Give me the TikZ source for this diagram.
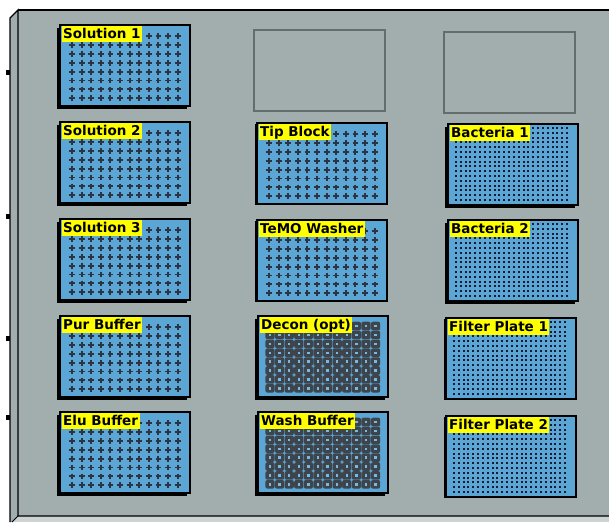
\documentclass[tikz,border=0pt]{standalone}
\usepackage{fontspec}
\newfontfamily\platefont{DejaVu Sans}
\usetikzlibrary{shadows}
\definecolor{framegray}{RGB}{162,174,174}
\definecolor{belowgray}{RGB}{205,210,210}
\definecolor{plateblue}{RGB}{92,166,214}
\definecolor{welldark}{RGB}{44,52,68}
\definecolor{deepdark}{RGB}{62,68,76}
\definecolor{deephole}{RGB}{120,185,225}
\definecolor{dotnavy}{RGB}{18,26,52}
\definecolor{emptyedge}{RGB}{100,108,108}
\definecolor{labelyellow}{RGB}{255,255,0}
\tikzset{
  plate/.style={draw=black, line width=1.5pt, fill=plateblue, anchor=north west,
    minimum width=130pt, minimum height=81pt, inner sep=0pt},
  emptybox/.style={draw=emptyedge, line width=1.5pt, anchor=north west,
    minimum width=131pt, minimum height=81pt, inner sep=0pt},
  platelabel/.style={fill=labelyellow, text=black, anchor=north west,
    font=\platefont\bfseries\fontsize{13.5}{14}\selectfont,
    inner xsep=1.5pt, inner ysep=0.5pt, text height=11.5pt, text depth=3.5pt},
  frameline/.style={draw=black, line width=1.4pt},
}
\newcommand\wellsplus{%
  \foreach \i in {0,...,11}{\foreach \j in {0,...,7}{%
    \draw[welldark, line width=1.9pt] ({13+9.6*\i-2.9},{12+8.9*\j}) -- ++(5.8,0)
      ({13+9.6*\i},{12+8.9*\j-2.9}) -- ++(0,5.8);}}}
\newcommand\wellsdeep{%
  \foreach \i in {0,...,11}{\foreach \j in {0,...,7}{%
    \fill[deepdark, rounded corners=2pt] ({13+9.6*\i-4.6},{11+8.9*\j-4.3}) rectangle ++(9.2,8.6);}}
  \foreach \i in {0,...,11}{\foreach \j in {0,...,7}{%
    \fill[deephole] ({13+9.6*\i-1.2},{11+8.9*\j-1.2}) rectangle ++(2.4,2.4);}}}
\newcommand\wellsdots{%
  \foreach \i in {0,...,23}{\foreach \j in {0,...,15}{%
    \fill[dotnavy] ({9+4.83*\i-1},{5+4.8*\j-1}) rectangle ++(2,2);}}}
\newcommand\mkplate[6]{%
  \node[plate, general shadow={fill=black, shadow xshift=-#6pt, shadow yshift=-#6pt}] (#1) at (#2,#3) {};
  \begin{scope}[shift={(#1.north west)}]\csname wells#5\endcsname\end{scope}
  \node[platelabel] (#1-label) at ([xshift=2.5pt,yshift=-2pt]#1.north west) {#4};
}
\begin{document}
\begin{tikzpicture}[x=1pt,y=-1pt]
\useasboundingbox (0,0) rectangle (609,522);
\fill[white] (0,0) rectangle (609,522);
\fill[belowgray] (12,516) rectangle (609,522);
\fill[framegray] (10,18) -- (18,10) -- (609,10) -- (609,516) -- (18,516) -- (12,522) -- (10,522) -- cycle;
% frame
\draw[frameline] (18,10) -- (609,10);
\draw[frameline] (10,522) -- (10,18) -- (18,10) -- (18,516) -- (609,516);
\draw[frameline, line width=1pt] (18,516) -- (12,522);
\foreach \ty in {70,214,336,415}{\fill[black] (6,\ty) rectangle (10,\ty+5);}
% empty positions
\node[emptybox] (empty2) at (253,29) {};
\node[emptybox] (empty3) at (443,31) {};
% column 1
\mkplate{sol1}{59}{24}{Solution 1}{plus}{3}
\mkplate{sol2}{59}{121}{Solution 2}{plus}{3}
\mkplate{sol3}{59}{218}{Solution 3}{plus}{3}
\mkplate{pur}{59}{315}{Pur Buffer}{plus}{3}
\mkplate{elu}{59}{411}{Elu Buffer}{plus}{3}
% column 2
\mkplate{tip}{256}{122}{Tip Block}{plus}{1.5}
\mkplate{temo}{256}{219}{TeMO Washer}{plus}{1.5}
\mkplate{decon}{257}{315}{Decon (opt)}{deep}{3}
\mkplate{wash}{257}{411}{Wash Buffer}{deep}{3}
% column 3
\mkplate{bac1}{447}{123}{Bacteria 1}{dots}{3}
\mkplate{bac2}{447}{219}{Bacteria 2}{dots}{3}
\mkplate{fil1}{445}{317}{Filter Plate 1}{dots}{1.5}
\mkplate{fil2}{445}{415}{Filter Plate 2}{dots}{1.5}
\end{tikzpicture}
\end{document}
